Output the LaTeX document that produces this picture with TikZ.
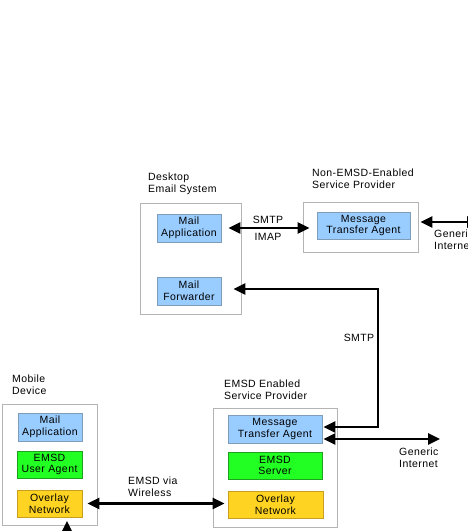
\documentclass[tikz,border=0pt]{standalone}
\usepackage{fontspec}
\setmainfont{Liberation Sans}[LetterSpace=4.0]
\usetikzlibrary{arrows.meta}

\definecolor{mailblue}{HTML}{99CCFF}
\definecolor{mailblueedge}{HTML}{7F9DB9}
\definecolor{emsdgreen}{HTML}{22FF22}
\definecolor{emsdgreenedge}{HTML}{1FA01F}
\definecolor{overlayyellow}{HTML}{FFD322}
\definecolor{overlayyellowedge}{HTML}{C8A020}
\definecolor{outeredge}{HTML}{B4B4B4}

\begin{document}
\begin{tikzpicture}[x=1pt,y=-1pt,line join=miter,
  every node/.style={inner sep=0pt,font=\fontsize{10.5pt}{11.7pt}\selectfont},
  outer/.style={draw=outeredge,line width=0.9pt,fill=white},
  part/.style={line width=0.9pt,align=center},
  bluepart/.style={part,draw=mailblueedge,fill=mailblue},
  greenpart/.style={part,draw=emsdgreenedge,fill=emsdgreen},
  yellowpart/.style={part,draw=overlayyellowedge,fill=overlayyellow},
  caption/.style={align=left,anchor=base west},
  link/.style={line width=2.6pt,{Triangle[length=12pt,width=11pt]}-{Triangle[length=12pt,width=11pt]}}]
  \useasboundingbox (0,0) rectangle (468,531);
  % desktop side
  \node[outer,minimum width=101pt,minimum height=111pt] (desk) at (190.5,258.5) {};
  \node[bluepart,minimum width=64pt,minimum height=28pt] (deskapp) at (189,228) {Mail\\Application};
  \node[bluepart,minimum width=64pt,minimum height=28pt] (deskfwd) at (189,291) {Mail\\Forwarder};
  \node[caption] (desklbl) at (148,192.5) {Desktop\\Email System};
  % non-EMSD provider
  \node[outer,minimum width=115pt,minimum height=50pt] (plain) at (360.5,227) {};
  \node[bluepart,minimum width=93pt,minimum height=27pt] (plainmta) at (363.5,225.5) {Message\\Transfer Agent};
  \node[caption] (plainlbl) at (312,188) {Non-EMSD-Enabled\\Service Provider};
  % mobile device
  \node[outer,minimum width=95pt,minimum height=121pt] (mobile) at (49.5,464.5) {};
  \node[bluepart,minimum width=64pt,minimum height=28pt] (mobapp) at (50,427) {Mail\\Application};
  \node[greenpart,minimum width=65pt,minimum height=27pt] (agent) at (49.5,464.5) {EMSD\\User Agent};
  \node[yellowpart,minimum width=65pt,minimum height=27pt] (mobovl) at (49.5,503.5) {Overlay\\Network};
  \node[caption] (moblbl) at (12,394) {Mobile\\Device};
  % EMSD provider
  \node[outer,minimum width=124pt,minimum height=119pt] (emsd) at (275,467.5) {};
  \node[bluepart,minimum width=94pt,minimum height=28pt] (emsdmta) at (275,429) {Message\\Transfer Agent};
  \node[greenpart,minimum width=94pt,minimum height=27pt] (server) at (275,465.5) {EMSD\\Server};
  \node[yellowpart,minimum width=95pt,minimum height=27pt] (emsdovl) at (275.5,504.5) {Overlay\\Network};
  \node[caption] (emsdlbl) at (224,399) {EMSD Enabled\\Service Provider};
  % connectors
  \coordinate (netA) at (479,222);
  \coordinate (netB) at (440,439);
  \coordinate (smtpturn) at (378,289);
  \coordinate (below) at (67,545);
  \draw[link,shorten <=7pt,shorten >=7pt] (deskapp.east) -- (plainmta.west |- deskapp.east);
  \draw[link,shorten <=2pt] (netA -| plain.east) -- (netA);
  \draw[link,shorten <=12pt,shorten >=1pt] (deskfwd.east |- smtpturn) -- (smtpturn) |- ([yshift=2pt]emsdmta.east);
  \draw[link,shorten <=1pt] (emsdmta.east |- netB) -- (netB);
  \draw[link,shorten <=5pt,shorten >=3pt] (mobovl.east) -- (emsdovl.west |- mobovl.east);
  \draw[line width=2.6pt,-{Triangle[length=12pt,width=11pt]}] (below) -- (67,521);
  % connector labels
  \node[anchor=base] (smtptop) at (268,223) {SMTP};
  \node[anchor=base] (imap) at (268,240) {IMAP};
  \node[caption] (netAlbl) at (434,249) {Generic\\Internet};
  \node[anchor=base] (smtpside) at (359,341) {SMTP};
  \node[caption] (wireless) at (128,496) {EMSD via\\Wireless};
  \node[caption] (netBlbl) at (399,467) {Generic\\Internet};
\end{tikzpicture}
\end{document}
